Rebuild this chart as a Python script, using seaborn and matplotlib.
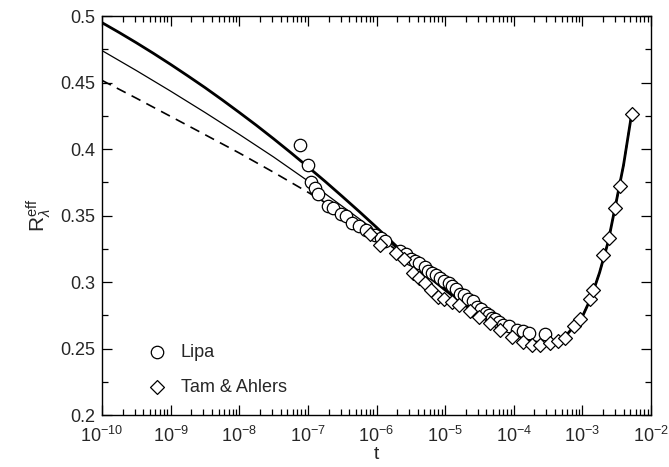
import numpy as np
import pandas as pd
import matplotlib
matplotlib.use("Agg")
import matplotlib.pyplot as plt
import seaborn as sns
from matplotlib.ticker import LogLocator, NullFormatter, MultipleLocator, FixedLocator

# ---- data (t given as log10 exponents) ----
lipa_logt = [-7.11, -7.00, -6.95, -6.90, -6.85, -6.70, -6.63, -6.52, -6.45, -6.36,
             -6.25, -6.15, -6.02, -5.94, -5.88, -5.66, -5.57, -5.50, -5.44, -5.38,
             -5.30, -5.25, -5.19, -5.14, -5.08, -5.02, -4.95, -4.90, -4.84, -4.78,
             -4.72, -4.66, -4.60, -4.53, -4.47, -4.41, -4.36, -4.32, -4.27, -4.22,
             -4.15, -4.07, -3.95, -3.86, -3.78, -3.55]
lipa_R = [0.403, 0.388, 0.375, 0.371, 0.366, 0.357, 0.356, 0.351, 0.350, 0.344,
          0.342, 0.339, 0.335, 0.333, 0.331, 0.323, 0.321, 0.317, 0.316, 0.314,
          0.311, 0.308, 0.307, 0.305, 0.303, 0.301, 0.299, 0.297, 0.295, 0.291,
          0.290, 0.287, 0.286, 0.281, 0.280, 0.277, 0.275, 0.273, 0.272, 0.270,
          0.268, 0.267, 0.264, 0.263, 0.262, 0.261]

tam_logt = [-6.10, -5.95, -5.72, -5.60, -5.47, -5.38, -5.30, -5.21, -5.10, -5.02,
            -4.90, -4.80, -4.64, -4.50, -4.35, -4.20, -4.03, -3.86, -3.74, -3.62,
            -3.47, -3.35, -3.25, -3.12, -3.04, -2.896, -2.847, -2.695, -2.617,
            -2.524, -2.456, -2.283]
tam_R = [0.336, 0.328, 0.322, 0.317, 0.307, 0.303, 0.299, 0.294, 0.289, 0.287,
         0.285, 0.283, 0.278, 0.274, 0.269, 0.264, 0.259, 0.255, 0.253, 0.253,
         0.254, 0.256, 0.258, 0.267, 0.272, 0.287, 0.294, 0.320, 0.333,
         0.356, 0.372, 0.426]

common_logt = [-5.25, -5.0, -4.75, -4.5, -4.25, -4.0, -3.75, -3.5, -3.25, -3.0,
               -2.875, -2.75, -2.625, -2.5, -2.4, -2.283]
common_R = [0.3045, 0.294, 0.284, 0.275, 0.2675, 0.261, 0.2555, 0.2535, 0.259, 0.274,
            0.288, 0.307, 0.330, 0.362, 0.388, 0.426]

thick_logt = [-10.0, -9.75, -9.5, -9.25, -9.0, -8.75, -8.5, -8.25, -8.0, -7.75,
              -7.5, -7.25, -7.0, -6.75, -6.5, -6.25, -6.0, -5.75, -5.5]
thick_R = [0.495, 0.4876, 0.4799, 0.4719, 0.4636, 0.4550, 0.4462, 0.4370, 0.4275,
           0.4178, 0.4077, 0.3973, 0.3866, 0.3757, 0.3644, 0.3529, 0.3411, 0.3289,
           0.3165]
thin_logt = [-10.0, -9.5, -9.0, -8.5, -8.0, -7.5, -7.0, -6.75, -6.5, -6.25, -6.0,
             -5.75, -5.5]
thin_R = [0.474, 0.4590, 0.4435, 0.4275, 0.4110, 0.3940, 0.3760, 0.3665, 0.3570,
          0.3475, 0.3378, 0.3272, 0.3160]
dash_logt = [-10.0, -9.5, -9.0, -8.5, -8.0, -7.5, -7.0, -6.75, -6.5, -6.25, -6.0,
             -5.75, -5.5]
dash_R = [0.4516, 0.4382, 0.4245, 0.4108, 0.3970, 0.3825, 0.3675, 0.3598, 0.3520,
          0.3437, 0.3350, 0.3255, 0.3155]

xtick_exps = [-10, -9, -8, -7, -6, -5, -4, -3, -2]
yticks = [0.2, 0.25, 0.3, 0.35, 0.4, 0.45, 0.5]
ytick_labels = ["0.2", "0.25", "0.3", "0.35", "0.4", "0.45", "0.5"]

# ---- style ----
sns.set_style("ticks")
plt.rcParams['font.family'] = ['Liberation Sans', 'DejaVu Sans']
plt.rcParams['mathtext.fontset'] = 'custom'
plt.rcParams['mathtext.rm'] = 'Liberation Sans'
plt.rcParams['mathtext.it'] = 'Liberation Sans:italic'
plt.rcParams['mathtext.sf'] = 'Liberation Sans'

fig = plt.figure(figsize=(6.69, 4.67), dpi=100)
ax = fig.add_axes([102/669, 52/467, 549/669, 399/467])

def curve(lx, ly):
    return pd.DataFrame({"t": np.power(10.0, lx), "R": ly})

thick_df = curve(thick_logt + common_logt, thick_R + common_R)
thin_df = curve(thin_logt + common_logt, thin_R + common_R)
dash_df = curve(dash_logt + common_logt, dash_R + common_R)

sns.lineplot(data=dash_df, x="t", y="R", ax=ax, color="black", lw=1.2,
             linestyle=(0, (6, 4)), sort=False, estimator=None)
sns.lineplot(data=thin_df, x="t", y="R", ax=ax, color="black", lw=0.9,
             sort=False, estimator=None)
sns.lineplot(data=thick_df, x="t", y="R", ax=ax, color="black", lw=2.0,
             sort=False, estimator=None)

lipa_df = pd.DataFrame({"t": np.power(10.0, lipa_logt), "R": lipa_R})
tam_df = pd.DataFrame({"t": np.power(10.0, tam_logt), "R": tam_R})
sns.scatterplot(data=lipa_df, x="t", y="R", ax=ax, marker="o", s=80,
                facecolor="white", edgecolor="black", linewidth=0.9, label="Lipa", zorder=3)
sns.scatterplot(data=tam_df, x="t", y="R", ax=ax, marker="D", s=50,
                facecolor="white", edgecolor="black", linewidth=0.9, label="Tam & Ahlers", zorder=3)

ax.set_xscale("log")
ax.set_xlim(1e-10, 1e-2)
ax.set_ylim(0.2, 0.5)
ax.xaxis.set_major_locator(FixedLocator([10.0**e for e in xtick_exps]))
ax.set_xticklabels([r"$10^{%d}$" % e for e in xtick_exps])
ax.xaxis.set_minor_locator(LogLocator(base=10, subs=np.arange(2, 10), numticks=100))
ax.xaxis.set_minor_formatter(NullFormatter())
ax.set_yticks(yticks)
ax.set_yticklabels(ytick_labels)
ax.yaxis.set_minor_locator(MultipleLocator(0.025))

ax.tick_params(which="both", direction="in", top=True, right=True, labelsize=13,
               color="black", width=0.9)
ax.tick_params(which="major", length=7)
ax.tick_params(axis="y", which="major", pad=5)
ax.tick_params(axis="x", which="major", pad=8)
ax.tick_params(which="minor", length=4)
for s in ax.spines.values():
    s.set_linewidth(1.0)
    s.set_color("black")

ax.set_xlabel("t", fontsize=14, labelpad=0)
ax.set_ylabel(r"$\mathrm{R}_{\lambda}^{\mathrm{eff}}$", fontsize=15, labelpad=5)

leg = ax.legend(loc="upper left", bbox_to_anchor=(0.045, 0.21), frameon=False,
                fontsize=13, handletextpad=0.3, labelspacing=1.0, borderpad=0.2)

fig.savefig("out.png", dpi=100)
